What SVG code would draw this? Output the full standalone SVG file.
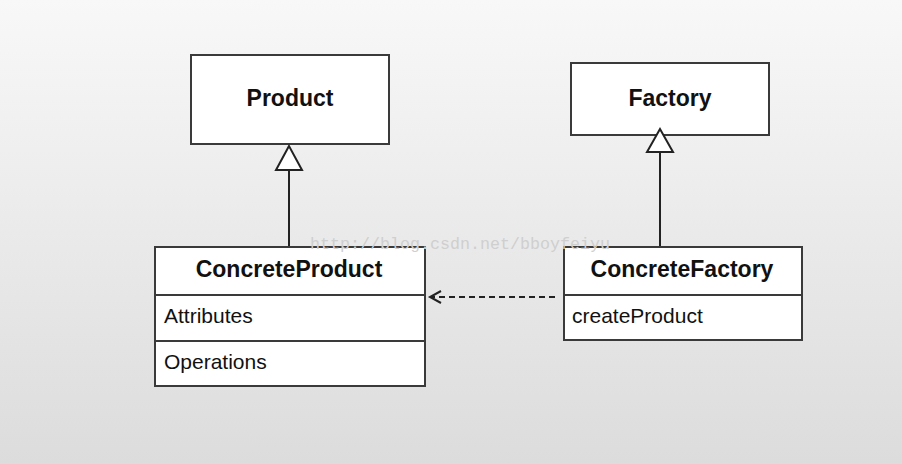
<svg xmlns="http://www.w3.org/2000/svg" width="902" height="464" viewBox="0 0 902 464">
<defs>
<linearGradient id="bg" x1="0" y1="0" x2="0" y2="1">
<stop offset="0" stop-color="#f8f8f8"/>
<stop offset="1" stop-color="#dcdcdc"/>
</linearGradient>
</defs>
<style>
.box{fill:#fff;stroke:#3a3a3a;stroke-width:2}
.div{stroke:#3a3a3a;stroke-width:2}
.t{font-family:"Liberation Sans",Arial,sans-serif;fill:#111}
.b{font-weight:bold;font-size:23px;text-anchor:middle}
.r{font-size:21px}
.edge{stroke:#222;stroke-width:2;fill:none}
.tri{fill:#fff;stroke:#222;stroke-width:2}
</style>
<rect width="902" height="464" fill="url(#bg)"/>
<g id="Product">
<rect class="box" x="191" y="55" width="198" height="89"/>
<text class="t b" x="290" y="106">Product</text>
</g>
<g id="Factory">
<rect class="box" x="571" y="63" width="198" height="72"/>
<text class="t b" x="670" y="106">Factory</text>
</g>
<g id="ConcreteProduct">
<rect class="box" x="155" y="247" width="270" height="139"/>
<line class="div" x1="155" y1="295" x2="425" y2="295"/>
<line class="div" x1="155" y1="341" x2="425" y2="341"/>
<text class="t b" x="289" y="277">ConcreteProduct</text>
<text class="t r" x="164" y="323">Attributes</text>
<text class="t r" x="164" y="369">Operations</text>
</g>
<g id="ConcreteFactory">
<rect class="box" x="564" y="247" width="238" height="93"/>
<line class="div" x1="564" y1="295" x2="802" y2="295"/>
<text class="t b" x="682" y="277">ConcreteFactory</text>
<text class="t r" x="572" y="323">createProduct</text>
</g>
<g id="connectors">
<line class="edge" x1="289" y1="170" x2="289" y2="246"/>
<polygon class="tri" points="289,146 276,170 302,170"/>
<line class="edge" x1="660" y1="152" x2="660" y2="246"/>
<polygon class="tri" points="660,129 647,152 673,152"/>
<line class="edge" x1="555" y1="297" x2="432" y2="297" stroke-dasharray="6,4"/>
<path class="edge" d="M441,291 L430,297 L441,303"/>
</g>
<text x="310" y="249" font-family="Liberation Mono, monospace" font-size="16" textLength="300" lengthAdjust="spacingAndGlyphs" fill="#cfcfcf">http://blog.csdn.net/bboyfeiyu</text>
</svg>
